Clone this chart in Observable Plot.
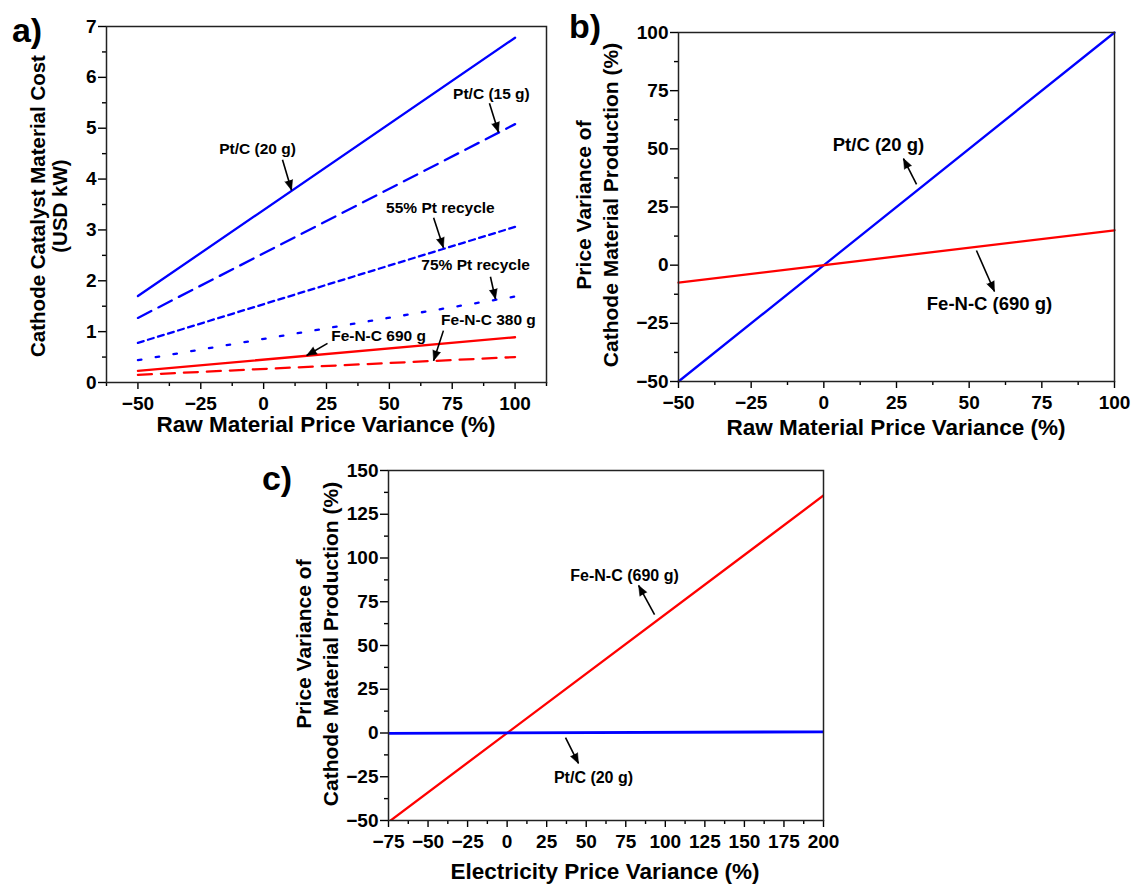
<!DOCTYPE html>
<html><head><meta charset="utf-8">
<script src="https://cdn.jsdelivr.net/npm/d3@7"></script>
<script src="https://cdn.jsdelivr.net/npm/@observablehq/plot@0.6"></script>
<style>
body{margin:0;background:#fff;}
#fig{position:relative;width:1132px;height:886px;overflow:hidden;font-family:"Liberation Sans",Arial,sans-serif;font-weight:bold;color:#000;background:#fff;}
#fig svg{position:absolute;}
.t{position:absolute;white-space:nowrap;text-align:center;line-height:1;transform:translate(-50%,-50%);}
.ty{position:absolute;white-space:nowrap;text-align:center;transform:translate(-50%,-50%) rotate(-90deg);}
</style></head><body><div id="fig"></div>
<script>
// ---------- Panel a data ----------
const rawVarianceA = [-50, 100];
const seriesA = ["Pt/C (20 g)", "Pt/C (15 g)", "55% Pt recycle", "75% Pt recycle", "Fe-N-C 690 g", "Fe-N-C 380 g"];
const costPtC20 = [1.70, 6.78];
const costPtC15 = [1.27, 5.08];
const costRecycle55 = [0.78, 3.06];
const costRecycle75 = [0.44, 1.69];
const costFeNC690 = [0.23, 0.89];
const costFeNC380 = [0.15, 0.50];
const xTicksA = [-50, -25, 0, 25, 50, 75, 100];
const xMinorA = [-62.5, -37.5, -12.5, 12.5, 37.5, 62.5, 87.5, 112.5];
const yTicksA = [0, 1, 2, 3, 4, 5, 6, 7];
const yMinorA = [0.5, 1.5, 2.5, 3.5, 4.5, 5.5, 6.5];
const labelsA = [
  {label: "Pt/C (20 g)", x: -2.4, y: 4.6},
  {label: "Pt/C (15 g)", x: 90.6, y: 5.68},
  {label: "55% Pt recycle", x: 70.3, y: 3.44},
  {label: "75% Pt recycle", x: 84.3, y: 2.30},
  {label: "Fe-N-C 690 g", x: 45.7, y: 0.92},
  {label: "Fe-N-C 380 g", x: 89.4, y: 1.22}
];
const arrowsA = [
  {x1: 7.5, y1: 4.38, x2: 11.1, y2: 3.78},
  {x1: 89.8, y1: 5.49, x2: 93.4, y2: 4.92},
  {x1: 67.6, y1: 3.24, x2: 71.5, y2: 2.65},
  {x1: 90.2, y1: 2.08, x2: 92.2, y2: 1.64},
  {x1: 25.4, y1: 0.77, x2: 17.1, y2: 0.53},
  {x1: 71.5, y1: 1.02, x2: 67.6, y2: 0.43}
];

// ---------- Panel b data ----------
const rawVarianceB = [-50, 100];
const seriesB = ["Pt/C (20 g)", "Fe-N-C (690 g)"];
const prodPtC20B = [-50, 100];
const prodFeNC690B = [-7.5, 15];
const ticksB = [-50, -25, 0, 25, 50, 75, 100];
const minorB = [-37.5, -12.5, 12.5, 37.5, 62.5, 87.5];
const labelsB = [
  {label: "Pt/C (20 g)", x: 18.8, y: 51.4},
  {label: "Fe-N-C (690 g)", x: 57, y: -16.9}
];
const arrowsB = [
  {x1: 31.9, y1: 34.7, x2: 27.4, y2: 45.8},
  {x1: 52.5, y1: 6.3, x2: 58.7, y2: -11.3}
];

// ---------- Panel c data ----------
const elecVarianceC = [-75, 200];
const seriesC = ["Fe-N-C (690 g)", "Pt/C (20 g)"];
const prodFeNC690C = [-50.9, 135.7];
const prodPtC20C = [-0.2, 0.7];
const xTicksC = [-75, -50, -25, 0, 25, 50, 75, 100, 125, 150, 175, 200];
const xMinorC = [-62.5, -37.5, -12.5, 12.5, 37.5, 62.5, 87.5, 112.5, 137.5, 162.5, 187.5];
const yTicksC = [-50, -25, 0, 25, 50, 75, 100, 125, 150];
const yMinorC = [-37.5, -12.5, 12.5, 37.5, 62.5, 87.5, 112.5, 137.5];
const labelsC = [
  {label: "Fe-N-C (690 g)", x: 74.2, y: 90},
  {label: "Pt/C (20 g)", x: 54.6, y: -25.4}
];
const arrowsC = [
  {x1: 93.2, y1: 67.7, x2: 83.1, y2: 84.3},
  {x1: 36.9, y1: -2.6, x2: 45.1, y2: -17.4}
];

// ---------- helpers ----------
const BLUE = "#0000ff", RED = "#ff0000";
const TICK_FS = 19;
const fmt = d3.format("d");
function rows(xs, ys, name) { return xs.map((x, i) => ({x, y: ys[i], series: name})); }
function axes(xMajor, xMinor, yMajor, yMinor) {
  return [
    Plot.axisX({ticks: xMajor, tickSize: 7, tickPadding: 7, tickFormat: fmt, label: null, strokeWidth: 1.4, fontSize: TICK_FS}),
    Plot.axisX({ticks: xMinor, tickSize: 4, tickFormat: () => "", label: null, strokeWidth: 1.4}),
    Plot.axisY({ticks: yMajor, tickSize: 8, tickPadding: 2, tickFormat: fmt, label: null, strokeWidth: 1.4, fontSize: TICK_FS}),
    Plot.axisY({ticks: yMinor, tickSize: 4, tickFormat: () => "", label: null, strokeWidth: 1.4}),
    Plot.frame({stroke: "#222", strokeWidth: 1.5})
  ];
}
// annotation arrows: shaft + filled triangular head (head direction computed in pixel space)
function annot(labels, arrows, fs, xs, ys) {
  const heads = arrows.map(a => {
    const dx = xs(a.x2) - xs(a.x1), dy = ys(a.y2) - ys(a.y1);
    return {x: a.x2, y: a.y2, angle: Math.atan2(dx, -dy) * 180 / Math.PI};
  });
  return [
    Plot.link(arrows, {x1: "x1", y1: "y1", x2: "x2", y2: "y2", stroke: "#000", strokeWidth: 1.6}),
    Plot.vector(heads, {x: "x", y: "y", rotate: "angle", length: 10, anchor: "end", shape: "spike", r: 4, fill: "#000", stroke: "#000", strokeWidth: 0.5}),
    Plot.text(labels, {x: "x", y: "y", text: "label", fontSize: fs, fontWeight: "bold", fill: "#000"})
  ];
}
function place(svg, left, top) {
  svg.style.position = "absolute";
  svg.style.left = left + "px";
  svg.style.top = top + "px";
  svg.style.maxWidth = "none";
  svg.style.background = "transparent";
  svg.setAttribute("font-family", "Liberation Sans, Arial, sans-serif");
  svg.setAttribute("font-size", TICK_FS);
  svg.setAttribute("font-weight", "bold");
  document.getElementById("fig").appendChild(svg);
}

// ---------- Panel a ----------
const dimA = {width: 560, height: 440, marginLeft: 106, marginRight: 14, marginTop: 26, marginBottom: 58};
const domXA = [-62.5, 112.5], domYA = [0, 7];
const xsA = d3.scaleLinear(domXA, [dimA.marginLeft, dimA.width - dimA.marginRight]);
const ysA = d3.scaleLinear(domYA, [dimA.height - dimA.marginBottom, dimA.marginTop]);
const valuesA = [costPtC20, costPtC15, costRecycle55, costRecycle75, costFeNC690, costFeNC380];
const lineStyleA = [
  {stroke: BLUE, dash: null},
  {stroke: BLUE, dash: "15,8"},
  {stroke: BLUE, dash: "6,4.5"},
  {stroke: BLUE, dash: "3.5,14.5"},
  {stroke: RED, dash: null},
  {stroke: RED, dash: "14,9"}
];
const dataA = seriesA.flatMap((s, i) => rows(rawVarianceA, valuesA[i], s));
const svgA = Plot.plot({
  ...dimA,
  x: {domain: domXA, label: null},
  y: {domain: domYA, label: null},
  marks: [
    ...seriesA.map((s, i) => Plot.line(dataA.filter(d => d.series === s), {x: "x", y: "y", stroke: lineStyleA[i].stroke, strokeWidth: 2.3, strokeDasharray: lineStyleA[i].dash})),
    ...axes(xTicksA, xMinorA, yTicksA, yMinorA),
    ...annot(labelsA, arrowsA, 15.5, xsA, ysA)
  ]
});
place(svgA, 0, 0);

// ---------- Panel b ----------
const dimB = {width: 572, height: 440, marginLeft: 118, marginRight: 18, marginTop: 32, marginBottom: 59};
const domXB = [-50, 100], domYB = [-50, 100];
const xsB = d3.scaleLinear(domXB, [dimB.marginLeft, dimB.width - dimB.marginRight]);
const ysB = d3.scaleLinear(domYB, [dimB.height - dimB.marginBottom, dimB.marginTop]);
const valuesB = [prodPtC20B, prodFeNC690B];
const colorsB = [BLUE, RED];
const dataB = seriesB.flatMap((s, i) => rows(rawVarianceB, valuesB[i], s));
const svgB = Plot.plot({
  ...dimB,
  x: {domain: domXB, label: null},
  y: {domain: domYB, label: null},
  marks: [
    ...seriesB.map((s, i) => Plot.line(dataB.filter(d => d.series === s), {x: "x", y: "y", stroke: colorsB[i], strokeWidth: 2.3})),
    ...axes(ticksB, minorB, ticksB, minorB),
    ...annot(labelsB, arrowsB, 18.5, xsB, ysB)
  ]
});
place(svgB, 560, 0);

// ---------- Panel c ----------
const dimC = {width: 600, height: 446, marginLeft: 138, marginRight: 27, marginTop: 30, marginBottom: 66};
const domXC = [-75, 200], domYC = [-50, 150];
const xsC = d3.scaleLinear(domXC, [dimC.marginLeft, dimC.width - dimC.marginRight]);
const ysC = d3.scaleLinear(domYC, [dimC.height - dimC.marginBottom, dimC.marginTop]);
const valuesC = [prodFeNC690C, prodPtC20C];
const colorsC = [RED, BLUE];
const widthsC = [2.3, 2.8];
const dataC = seriesC.flatMap((s, i) => rows(elecVarianceC, valuesC[i], s));
const svgC = Plot.plot({
  ...dimC,
  x: {domain: domXC, label: null},
  y: {domain: domYC, label: null},
  marks: [
    ...seriesC.map((s, i) => Plot.line(dataC.filter(d => d.series === s), {x: "x", y: "y", stroke: colorsC[i], strokeWidth: widthsC[i], clip: true})),
    ...axes(xTicksC, xMinorC, yTicksC, yMinorC),
    ...annot(labelsC, arrowsC, 16, xsC, ysC)
  ]
});
place(svgC, 250, 440);

// ---------- titles ----------
const fig = document.getElementById("fig");
function addText(cls, html, left, top, size, lh) {
  const d = document.createElement("div");
  d.className = cls;
  d.innerHTML = html;
  d.style.left = left + "px";
  d.style.top = top + "px";
  d.style.fontSize = size + "px";
  if (lh) d.style.lineHeight = lh + "px";
  fig.appendChild(d);
}
addText("t", "a)", 27, 30, 34);
addText("t", "b)", 585, 26, 34);
addText("t", "c)", 277, 478, 34);
addText("t", "Raw Material Price Variance (%)", 326, 425, 22.5);
addText("t", "Raw Material Price Variance (%)", 896, 428, 22.5);
addText("t", "Electricity Price Variance (%)", 605, 872, 22.5);
addText("ty", "Cathode Catalyst Material Cost<br>(USD kW)", 49, 206, 20.5, 22);
addText("ty", "Price Variance of<br>Cathode Material Production (%)", 597, 205, 21, 27);
addText("ty", "Price Variance of<br>Cathode Material Production (%)", 317, 644, 21, 27);
</script></body></html>
